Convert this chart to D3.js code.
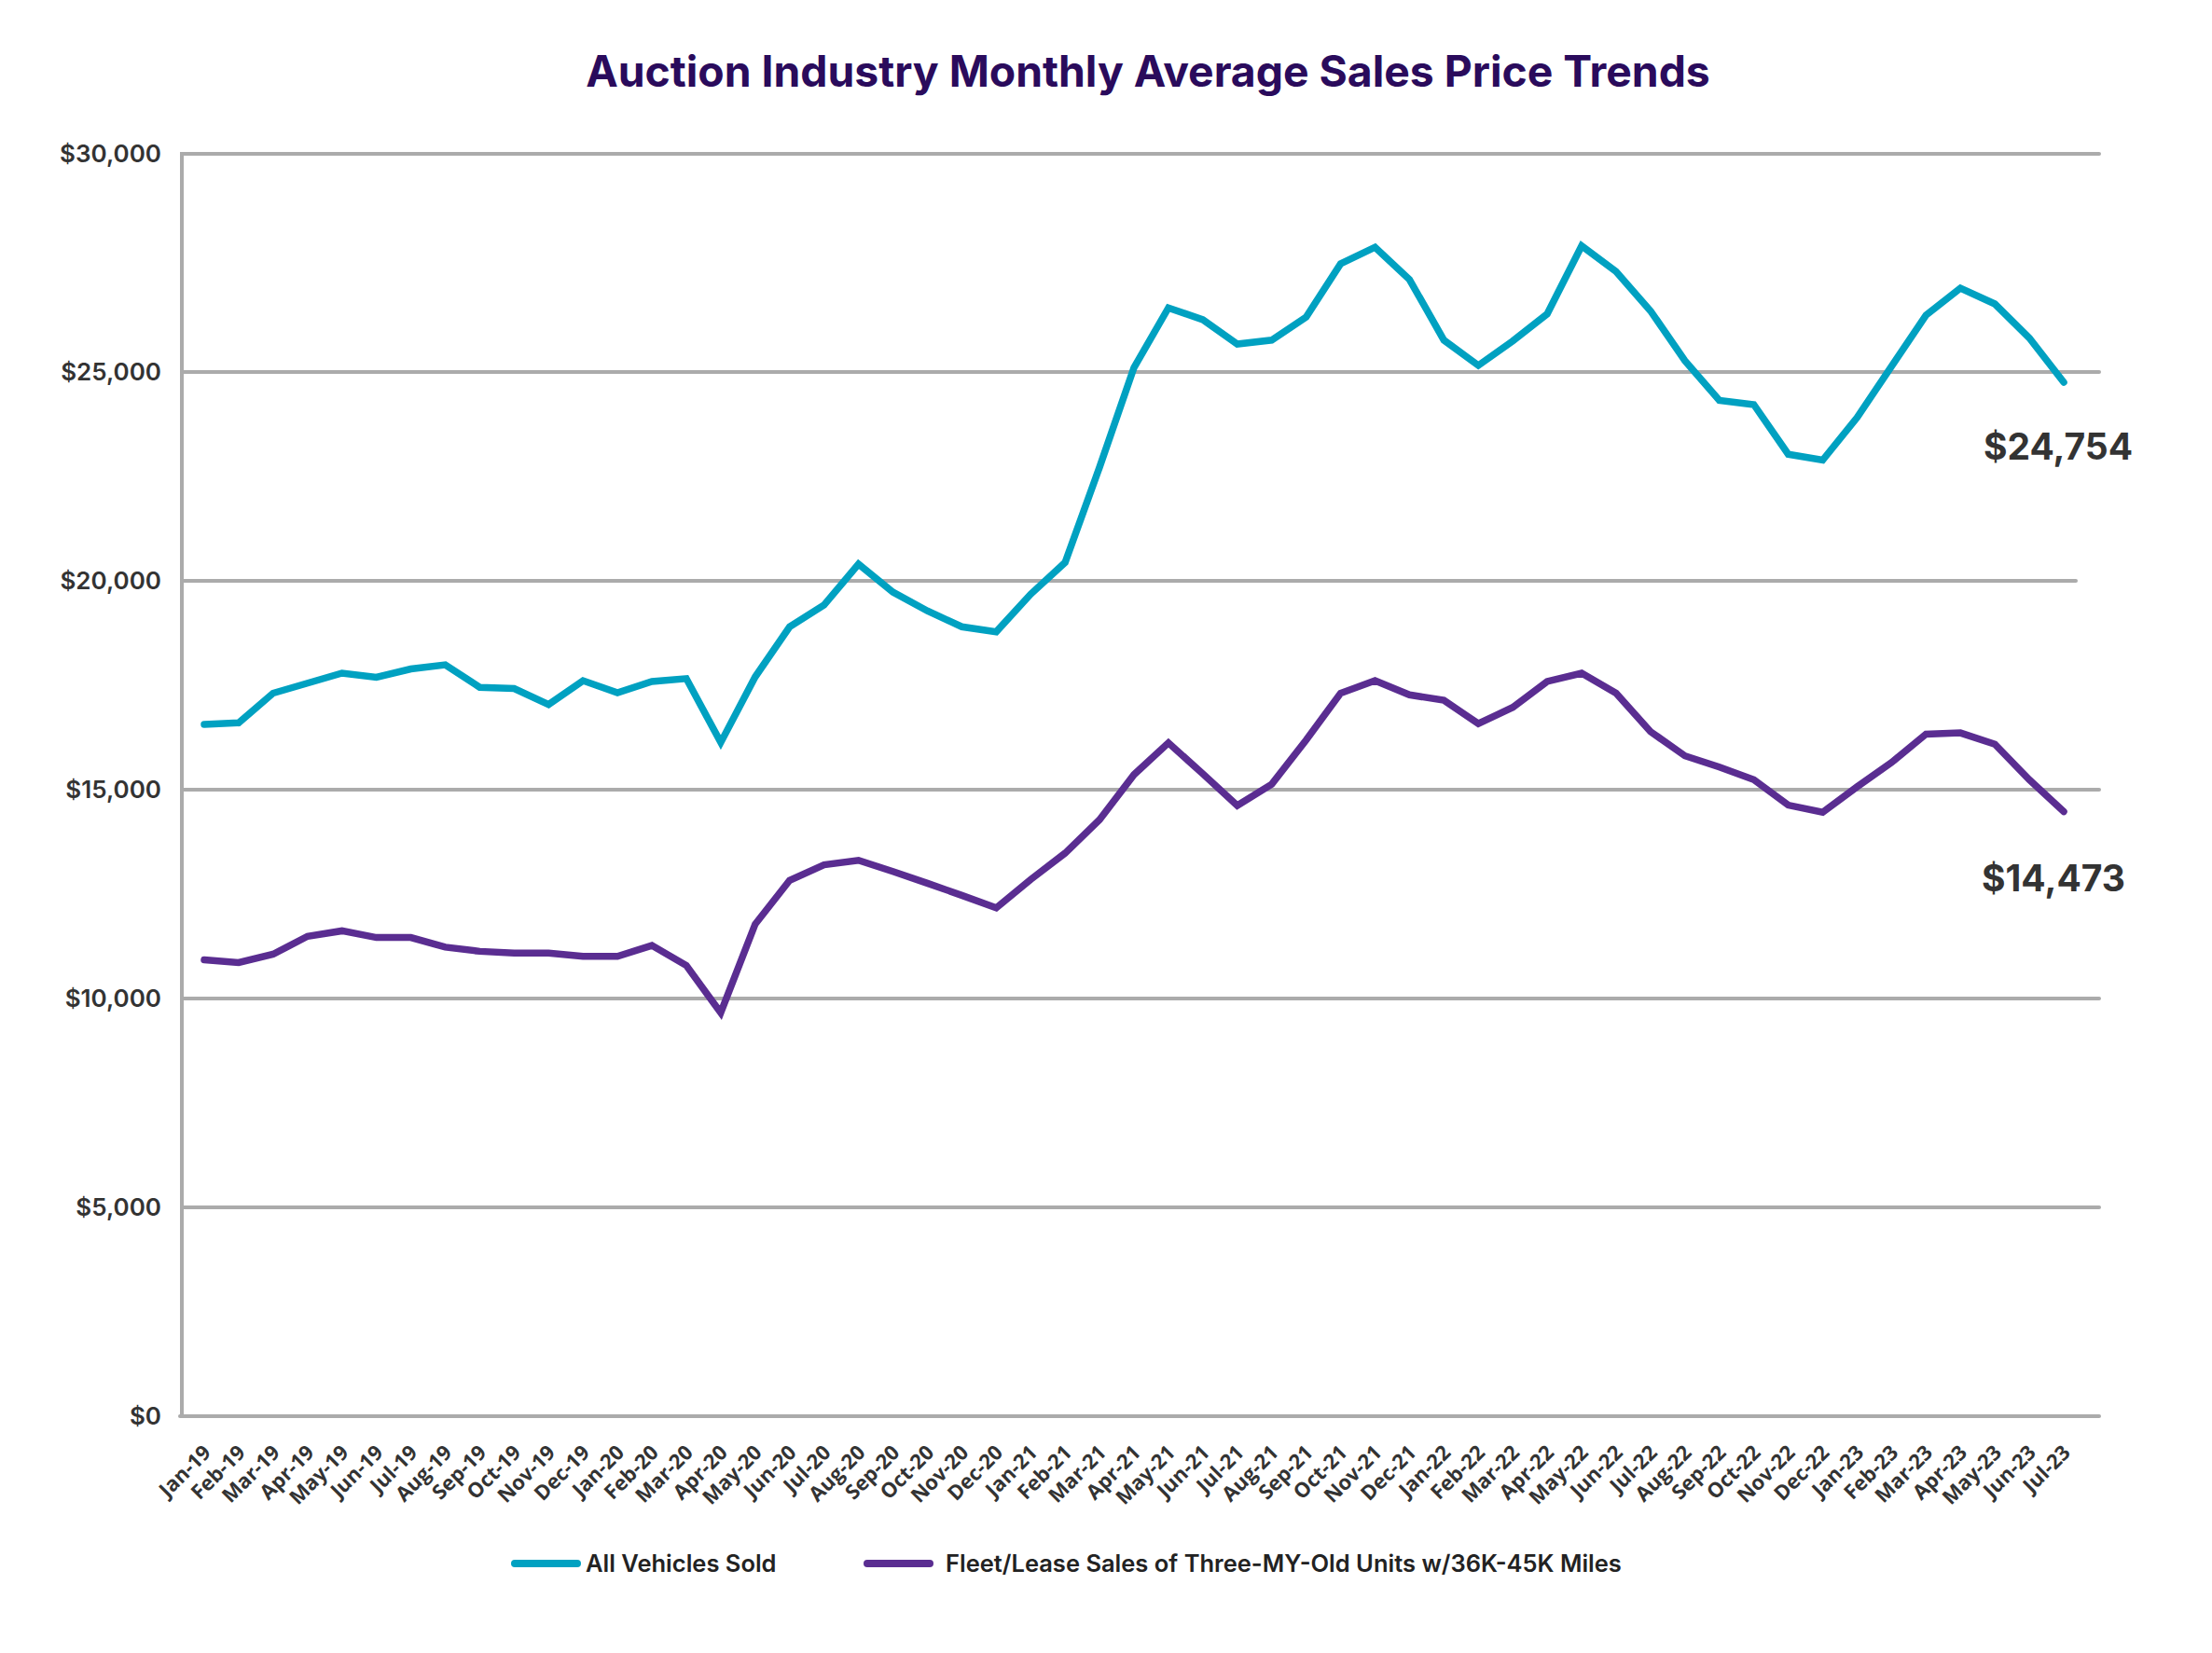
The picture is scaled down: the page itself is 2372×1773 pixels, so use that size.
<!DOCTYPE html>
<html>
<head>
<meta charset="utf-8">
<script src="https://cdn.jsdelivr.net/npm/d3@7"></script>
<style>
  html, body { margin: 0; padding: 0; background: #ffffff; }
  svg { display: block; }
</style>
</head>
<body>
<svg id="chart" width="2372" height="1773"></svg>
<script>
const months = ["Jan-19","Feb-19","Mar-19","Apr-19","May-19","Jun-19","Jul-19","Aug-19","Sep-19","Oct-19","Nov-19","Dec-19",
  "Jan-20","Feb-20","Mar-20","Apr-20","May-20","Jun-20","Jul-20","Aug-20","Sep-20","Oct-20","Nov-20","Dec-20",
  "Jan-21","Feb-21","Mar-21","Apr-21","May-21","Jun-21","Jul-21","Aug-21","Sep-21","Oct-21","Nov-21","Dec-21",
  "Jan-22","Feb-22","Mar-22","Apr-22","May-22","Jun-22","Jul-22","Aug-22","Sep-22","Oct-22","Nov-22","Dec-22",
  "Jan-23","Feb-23","Mar-23","Apr-23","May-23","Jun-23","Jul-23"];

const allVehicles = [16560,16600,17310,17550,17790,17690,17890,17990,17450,17420,17040,17610,
  17320,17590,17660,16130,17700,18900,19420,20400,19730,19280,18900,18780,
  19680,20440,22720,25100,26470,26200,25640,25730,26260,27480,27860,27120,
  25730,25150,25710,26330,27890,27300,26400,25260,24320,24220,23030,22890,
  23910,25130,26300,26920,26560,25780,24754];

const fleetLease = [10927,10860,11060,11490,11620,11460,11460,11230,11130,11090,11090,11010,
  11010,11270,10790,9660,11780,12830,13200,13310,13040,12760,12470,12170,
  12850,13480,14280,15360,16120,15380,14620,15130,16190,17310,17610,17270,
  17140,16580,16970,17590,17790,17310,16390,15810,15540,15240,14630,14460,
  15070,15650,16330,16360,16090,15240,14473];

const yTicks = [0,5000,10000,15000,20000,25000,30000];
const seriesNames = ["All Vehicles Sold","Fleet/Lease Sales of Three-MY-Old Units w/36K-45K Miles"];
const endLabels = ["$24,754","$14,473"];
const titleText = "Auction Industry Monthly Average Sales Price Trends";

const colors = ["#00a1c1","#5a2d91"];
const gridColor = "#ababab";
const svg = d3.select("#chart");

const x = d3.scalePoint().domain(months).range([219, 2213]);
const y = d3.scaleLinear().domain([0, 25000, 30000]).range([1519, 399, 165]);

// Title
const title = svg.append("text")
  .attr("x", 1231).attr("y", 93)
  .attr("text-anchor", "middle")
  .attr("font-family", "Inter, 'Noto Sans', sans-serif")
  .attr("font-weight", 700)
  .attr("font-size", 46)
  .attr("fill", "#2a0b5c")
  .text(titleText);
const tw = title.node().getComputedTextLength();
title.attr("font-size", 46 * 1206 / tw);

// Gridlines
svg.append("g").selectAll("line")
  .data(yTicks.filter(d => d > 0))
  .join("line")
  .attr("x1", 195)
  .attr("x2", d => d === 20000 ? 2226 : 2251)
  .attr("y1", d => y(d)).attr("y2", d => y(d))
  .attr("stroke", gridColor).attr("stroke-width", 4)
  .attr("stroke-linecap", "round");

// Axes lines
svg.append("line").attr("x1", 195).attr("x2", 195)
  .attr("y1", y(30000) - 2).attr("y2", y(0) + 2)
  .attr("stroke", gridColor).attr("stroke-width", 4);
svg.append("line").attr("x1", 193).attr("x2", 2251)
  .attr("y1", y(0)).attr("y2", y(0))
  .attr("stroke", gridColor).attr("stroke-width", 4).attr("stroke-linecap", "round");

// Y tick labels
const fmt = d3.format("$,");
svg.append("g").selectAll("text")
  .data(yTicks)
  .join("text")
  .attr("x", 173)
  .attr("y", d => y(d))
  .attr("dy", "0.36em")
  .attr("text-anchor", "end")
  .attr("font-family", "Inter, 'Noto Sans', sans-serif")
  .attr("font-weight", 600)
  .attr("font-size", 26)
  .attr("fill", "#333333")
  .text(d => fmt(d));

// X tick labels
svg.append("g").selectAll("text")
  .data(months)
  .join("text")
  .attr("transform", d => `translate(${x(d) + 3},${1554}) rotate(-45)`)
  .attr("dy", "0.35em")
  .attr("text-anchor", "end")
  .attr("font-family", "'Open Sans', 'DejaVu Sans', sans-serif")
  .attr("font-weight", 700)
  .attr("font-size", 22)
  .attr("fill", "#333333")
  .text(d => d);

// Lines
const line = d3.line().x((d, i) => x(months[i])).y(d => y(d));
[allVehicles, fleetLease].forEach((s, k) => {
  svg.append("path")
    .datum(s)
    .attr("d", line)
    .attr("fill", "none")
    .attr("stroke", colors[k])
    .attr("stroke-width", 7.5)
    .attr("stroke-linejoin", "miter")
    .attr("stroke-linecap", "round");
});

// End labels
const endPos = [[2207, 493], [2202, 956]];
endLabels.forEach((t, k) => {
  svg.append("text")
    .attr("x", endPos[k][0]).attr("y", endPos[k][1])
    .attr("text-anchor", "middle")
    .attr("font-family", "Inter, 'Noto Sans', sans-serif")
    .attr("font-weight", 700)
    .attr("font-size", 39)
    .attr("fill", "#333333")
    .text(t);
});

// Legend
const legendItems = [{x1: 552, x2: 619, tx: 628}, {x1: 930, x2: 997, tx: 1014}];
seriesNames.forEach((name, k) => {
  const g = svg.append("g");
  g.append("line")
    .attr("x1", legendItems[k].x1).attr("x2", legendItems[k].x2)
    .attr("y1", 1677).attr("y2", 1677)
    .attr("stroke", colors[k]).attr("stroke-width", 8)
    .attr("stroke-linecap", "round");
  g.append("text")
    .attr("x", legendItems[k].tx).attr("y", 1677)
    .attr("dy", "0.36em")
    .attr("font-family", "Inter, 'Noto Sans', sans-serif")
    .attr("font-weight", 600)
    .attr("font-size", 25.5)
    .attr("fill", "#222222")
    .text(name);
});
</script>
</body>
</html>
